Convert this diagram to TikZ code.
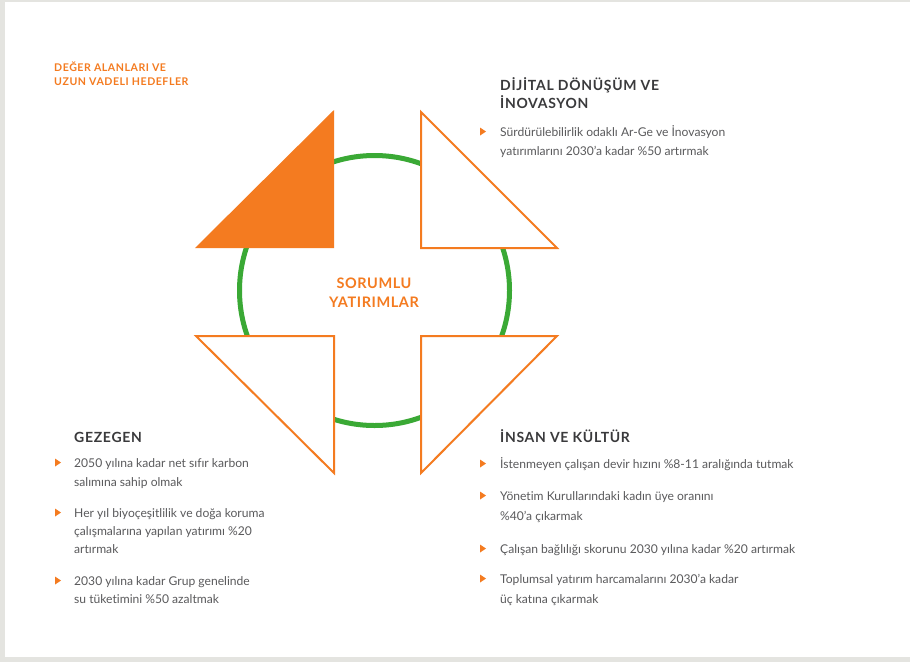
\documentclass[tikz,border=0pt]{standalone}
\usepackage{fontspec}
\setmainfont{Lato}[Ligatures=NoCommon]
\definecolor{orng}{HTML}{F47B20}
\definecolor{grn}{HTML}{3AA935}
\definecolor{txt}{HTML}{5A5A5C}
\definecolor{head}{HTML}{3A3A3C}
\definecolor{frame}{HTML}{E4E4E0}
\begin{document}
\begin{tikzpicture}[x=1pt,y=-1pt,
  body/.style={anchor=base west,inner sep=0pt,text=txt,font=\fontsize{12.1}{14}\selectfont},
  heading/.style={anchor=base west,inner sep=0pt,text=head,font=\fontsize{14}{16}\selectfont\bfseries\addfontfeature{LetterSpace=5}},
  tag/.style={anchor=base west,inner sep=0pt,text=orng,font=\fontsize{10.6}{12}\selectfont\bfseries\addfontfeature{LetterSpace=5}},
  center/.style={anchor=base,inner sep=0pt,text=orng,font=\fontsize{14.5}{16}\selectfont\bfseries\addfontfeature{LetterSpace=4}},
  tri/.style={draw=orng,line width=2pt,fill=white,line join=miter},
  bul/.style={fill=orng}]
\useasboundingbox (0,0) rectangle (910,662);
\fill[frame] (0,0) rectangle (910,662);
\fill[white] (5,2) rectangle (910,657);
% circle
\draw[grn,line width=5pt] (374.5,290.5) circle[radius=135];
% triangles
\fill[orng] (195,248) -- (334,110) -- (334,248) -- cycle;
\draw[tri] (421,112) -- (557,248) -- (421,248) -- cycle;
\draw[tri] (196,336) -- (334,336) -- (334,473) -- cycle;
\draw[tri] (421,336) -- (557,336) -- (421,473) -- cycle;
% center
\node[center] (c1) at (374,288) {SORUMLU};
\node[center] (c2) at (374,307) {YATIRIMLAR};
% tag
\node[tag] (t1) at (54,71) {DEĞER ALANLARI VE};
\node[tag] (t2) at (54,85) {UZUN VADELI HEDEFLER};
% top right
\node[heading] (h1) at (500,90) {DİJİTAL DÖNÜŞÜM VE};
\node[heading] (h2) at (500,108) {İNOVASYON};
\fill[bul] (480,127.5) -- (486,131.5) -- (480,135.5) -- cycle;
\node[body] (d1) at (500,136) {Sürdürülebilirlik odaklı Ar-Ge ve İnovasyon};
\node[body] (d2) at (500,155) {yatırımlarını 2030’a kadar \%50 artırmak};
% gezegen
\node[heading] (g0) at (74,442) {GEZEGEN};
\fill[bul] (55,458.5) -- (61,462.5) -- (55,466.5) -- cycle;
\node[body] (g1) at (74,467) {2050 yılına kadar net sıfır karbon};
\node[body] (g2) at (74,486) {salımına sahip olmak};
\fill[bul] (55,508.5) -- (61,512.5) -- (55,516.5) -- cycle;
\node[body] (g3) at (74,517) {Her yıl biyoçeşitlilik ve doğa koruma};
\node[body] (g4) at (74,535) {çalışmalarına yapılan yatırımı \%20};
\node[body] (g5) at (74,553) {artırmak};
\fill[bul] (55,576.5) -- (61,580.5) -- (55,584.5) -- cycle;
\node[body] (g6) at (74,585) {2030 yılına kadar Grup genelinde};
\node[body] (g7) at (74,603) {su tüketimini \%50 azaltmak};
% insan
\node[heading] (i0) at (500,442) {İNSAN VE KÜLTÜR};
\fill[bul] (480,459.5) -- (486,463.5) -- (480,467.5) -- cycle;
\node[body] (i1) at (500,468) {İstenmeyen çalışan devir hızını \%8-11 aralığında tutmak};
\fill[bul] (480,491.5) -- (486,495.5) -- (480,499.5) -- cycle;
\node[body] (i2) at (500,500) {Yönetim Kurullarındaki kadın üye oranını};
\node[body] (i3) at (500,520) {\%40’a çıkarmak};
\fill[bul] (480,544.5) -- (486,548.5) -- (480,552.5) -- cycle;
\node[body] (i4) at (500,553) {Çalışan bağlılığı skorunu 2030 yılına kadar \%20 artırmak};
\fill[bul] (480,574.5) -- (486,578.5) -- (480,582.5) -- cycle;
\node[body] (i5) at (500,583) {Toplumsal yatırım harcamalarını 2030’a kadar};
\node[body] (i6) at (500,603) {üç katına çıkarmak};
\end{tikzpicture}
\end{document}
